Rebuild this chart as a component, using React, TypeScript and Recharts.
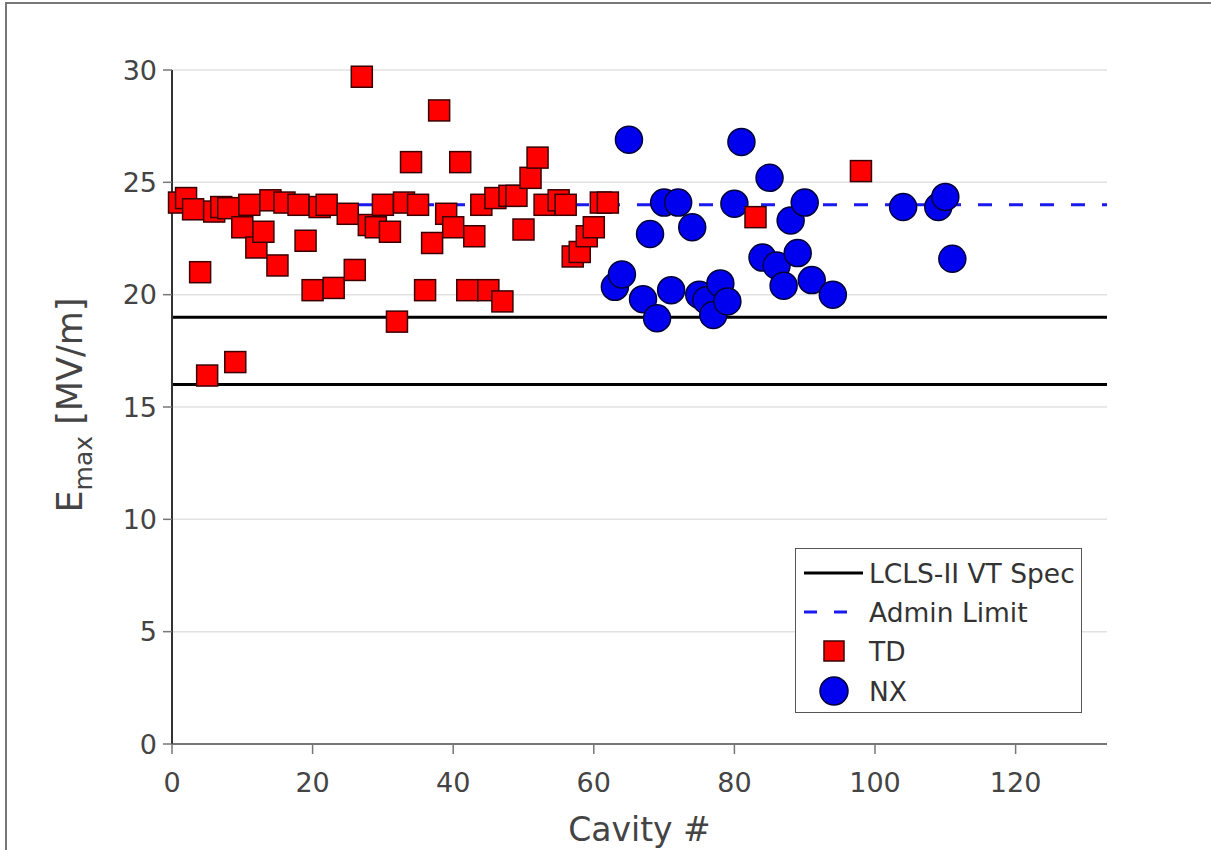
import React from 'react';
import { ScatterChart, Scatter, XAxis, YAxis, CartesianGrid, ReferenceLine, Label, Legend } from 'recharts';

// TD cavities (red squares)
const tdCavity = [1, 2, 3, 4, 5, 6, 7, 8, 9, 10, 11, 12, 13, 14, 15, 16, 18, 19, 20, 21, 22, 23, 25, 26, 27, 28, 29, 30, 31, 32, 33, 34, 35, 36, 37, 38, 39, 40, 41, 42, 43, 44, 45, 46, 47, 48, 49, 50, 51, 52, 53, 55, 56, 57, 58, 59, 60, 61, 62, 83, 98];
const tdEmax = [24.1, 24.3, 23.8, 21.0, 16.4, 23.7, 23.9, 23.85, 17.0, 23.0, 24.0, 22.1, 22.8, 24.2, 21.3, 24.1, 24.0, 22.4, 20.2, 23.9, 24.0, 20.3, 23.6, 21.1, 29.7, 23.1, 23.0, 24.0, 22.8, 18.8, 24.1, 25.9, 24.0, 20.2, 22.3, 28.2, 23.6, 23.0, 25.9, 20.2, 22.6, 24.0, 20.2, 24.3, 19.7, 24.4, 24.4, 22.9, 25.2, 26.1, 24.0, 24.2, 24.0, 21.7, 21.9, 22.6, 23.0, 24.1, 24.1, 23.45, 25.5];

// NX cavities (blue circles)
const nxCavity = [63, 64, 65, 67, 68, 69, 70, 71, 72, 74, 75, 76, 77, 78, 79, 80, 81, 84, 85, 86, 87, 88, 89, 90, 91, 94, 104, 109, 110, 111];
const nxEmax = [20.35, 20.9, 26.9, 19.8, 22.7, 18.95, 24.1, 20.2, 24.1, 23.0, 20.0, 19.75, 19.1, 20.5, 19.7, 24.05, 26.8, 21.65, 25.2, 21.3, 20.4, 23.3, 21.85, 24.1, 20.65, 20.0, 23.9, 23.9, 24.35, 21.6];

const xTicks = [0, 20, 40, 60, 80, 100, 120];
const yTicks = [0, 5, 10, 15, 20, 25, 30];
const specLimits = [19, 16];
const adminLimit = 24;

const legendLabels = ['LCLS-II VT Spec', 'Admin Limit', 'TD', 'NX'];

const FONT = '"DejaVu Sans", sans-serif';

const tdData = tdCavity.map((c, i) => ({ cavity: c, emax: tdEmax[i] }));
const nxData = nxCavity.map((c, i) => ({ cavity: c, emax: nxEmax[i] }));

const SquareShape = (props: any) => {
  const { cx, cy } = props;
  if (cx == null || cy == null) return null;
  const s = 21;
  return <rect x={cx - s / 2} y={cy - s / 2} width={s} height={s} fill="#ff0000" stroke="#3a0000" strokeWidth={1.5} />;
};

const CircleShape = (props: any) => {
  const { cx, cy } = props;
  if (cx == null || cy == null) return null;
  return <circle cx={cx} cy={cy} r={13.5} fill="#0000ee" stroke="#00003a" strokeWidth={1.5} />;
};

const renderLegend = () => (
  <div
    style={{
      width: 287,
      height: 165,
      border: '1.5px solid #555',
      background: '#fff',
      boxSizing: 'border-box',
    }}
  >
    <svg width={285} height={163} style={{ display: 'block' }}>
      <line x1={8} x2={67} y1={24} y2={24} stroke="#000" strokeWidth={3} />
      <text x={73} y={24} dy="0.36em" fontSize={26.5} fill="#333" fontFamily={FONT}>{legendLabels[0]}</text>
      <line x1={8} x2={56} y1={63} y2={63} stroke="#1a1aee" strokeWidth={3} strokeDasharray="13 17" />
      <text x={73} y={63} dy="0.36em" fontSize={26.5} fill="#333" fontFamily={FONT}>{legendLabels[1]}</text>
      <rect x={28} y={92} width={20} height={20} fill="#ff0000" stroke="#3a0000" strokeWidth={1.5} />
      <text x={73} y={102} dy="0.36em" fontSize={26.5} fill="#333" fontFamily={FONT}>{legendLabels[2]}</text>
      <circle cx={38} cy={142} r={14} fill="#0000ee" stroke="#00003a" strokeWidth={1.5} />
      <text x={73} y={142} dy="0.36em" fontSize={26.5} fill="#333" fontFamily={FONT}>{legendLabels[3]}</text>
    </svg>
  </div>
);

const YLabel = () => (
  <text transform="translate(82,405) rotate(-90)" textAnchor="middle" fontSize={35} fill="#444" fontFamily={FONT}>
    E<tspan dy={10} fontSize={25}>max</tspan>
    <tspan dy={-10} fontSize={35}> [MV/m]</tspan>
  </text>
);

export default function App() {
  return (
    <div style={{ position: 'absolute', left: 0, top: 0, width: 1211, height: 850, background: '#fff', overflow: 'hidden' }}>
      <div
        style={{
          position: 'absolute',
          left: 5,
          top: 2,
          width: 1206,
          height: 848,
          borderTop: '2px solid #777',
          borderLeft: '2px solid #777',
          boxSizing: 'border-box',
        }}
      />
      <ScatterChart width={1211} height={850} margin={{ top: 70, right: 104, bottom: 0, left: 0 }}>
        <CartesianGrid vertical={false} stroke="#e2e2e2" strokeWidth={1.5} />
        <XAxis
          type="number"
          dataKey="cavity"
          domain={[0, 133]}
          ticks={xTicks}
          height={106}
          tickSize={10}
          tickMargin={19}
          axisLine={{ stroke: '#777', strokeWidth: 2 }}
          tickLine={{ stroke: '#777', strokeWidth: 1.5 }}
          tick={{ fontSize: 27, fill: '#444', fontFamily: FONT }}
        >
          <Label value="Cavity #" position="insideBottom" offset={9} style={{ fontSize: 33, fill: '#444', fontFamily: FONT }} />
        </XAxis>
        <YAxis
          type="number"
          dataKey="emax"
          domain={[0, 30]}
          ticks={yTicks}
          width={172}
          tickSize={9}
          tickMargin={6}
          axisLine={{ stroke: '#333', strokeWidth: 2 }}
          tickLine={{ stroke: '#777', strokeWidth: 1.5 }}
          tick={{ fontSize: 27, fill: '#444', fontFamily: FONT }}
        >
          <Label content={<YLabel />} />
        </YAxis>
        {specLimits.map((v) => (
          <ReferenceLine key={v} y={v} stroke="#000" strokeWidth={3} />
        ))}
        <ReferenceLine y={adminLimit} stroke="#1a1aee" strokeWidth={3} strokeDasharray="14 17" />
        <Scatter name="NX" data={nxData} shape={CircleShape} isAnimationActive={false} />
        <Scatter name="TD" data={tdData} shape={SquareShape} isAnimationActive={false} />
        <Legend
          content={renderLegend}
          layout="horizontal"
          verticalAlign="middle"
          align="center"
          wrapperStyle={{ position: 'absolute', left: 795, top: 548, width: 287, height: 165 }}
        />
      </ScatterChart>
    </div>
  );
}
